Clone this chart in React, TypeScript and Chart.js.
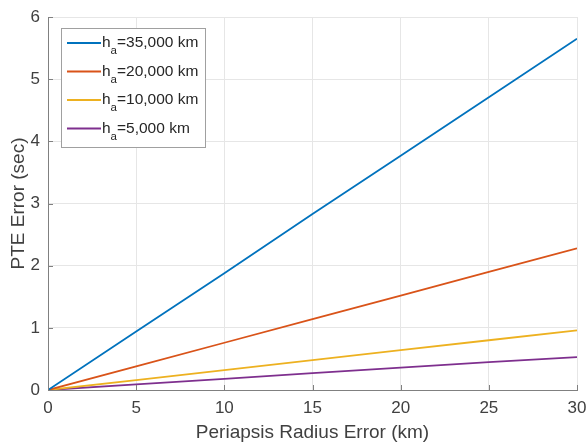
import React, { useEffect, useRef } from "react";
import { Chart, registerables } from "chart.js";

Chart.register(...registerables);

const xValues = [0, 5, 10, 15, 20, 25, 30];
const series35000 = [0, 0.94, 1.88, 2.83, 3.77, 4.71, 5.65];
const series20000 = [0, 0.38, 0.76, 1.14, 1.52, 1.9, 2.28];
const series10000 = [0, 0.16, 0.32, 0.48, 0.64, 0.8, 0.96];
const series5000 = [0, 0.09, 0.18, 0.27, 0.36, 0.45, 0.53];
const legendMain = ["h", "h", "h", "h"];
const legendSub = ["a", "a", "a", "a"];
const legendRest = ["=35,000 km", "=20,000 km", "=10,000 km", "=5,000 km"];
const colors = ["#0072BD", "#D95319", "#EDB120", "#7E2F8E"];

const FONT = "'Liberation Sans', Arial, sans-serif";

const inwardTicks = {
  id: "inwardTicks",
  afterDatasetsDraw(chart: any) {
    const { ctx, chartArea, scales } = chart;
    ctx.save();
    ctx.strokeStyle = "#808080";
    ctx.lineWidth = 1;
    const len = 5;
    scales.x.ticks.forEach((t: any) => {
      const px = Math.round(scales.x.getPixelForValue(t.value)) + 0.5;
      ctx.beginPath();
      ctx.moveTo(px, chartArea.bottom);
      ctx.lineTo(px, chartArea.bottom - len);
      ctx.stroke();
    });
    scales.y.ticks.forEach((t: any) => {
      const py = Math.round(scales.y.getPixelForValue(t.value)) + 0.5;
      ctx.beginPath();
      ctx.moveTo(chartArea.left, py);
      ctx.lineTo(chartArea.left + len, py);
      ctx.stroke();
    });
    ctx.restore();
  },
};

const customLegend = {
  id: "customLegend",
  afterDraw(chart: any) {
    const { ctx } = chart;
    const x0 = 61.5, y0 = 28.5, w = 144, h = 119;
    ctx.save();
    ctx.fillStyle = "#ffffff";
    ctx.fillRect(x0, y0, w, h);
    ctx.strokeStyle = "#a0a0a0";
    ctx.lineWidth = 1;
    ctx.strokeRect(x0, y0, w, h);
    const rowY = [43, 71.5, 100, 128.5];
    for (let i = 0; i < 4; i++) {
      const y = rowY[i];
      ctx.strokeStyle = colors[i];
      ctx.lineWidth = 2;
      ctx.beginPath();
      ctx.moveTo(67, y);
      ctx.lineTo(101, y);
      ctx.stroke();
      ctx.fillStyle = "#262626";
      ctx.textBaseline = "middle";
      ctx.textAlign = "left";
      ctx.font = `15.5px ${FONT}`;
      ctx.fillText(legendMain[i], 102, y);
      const hw = ctx.measureText(legendMain[i]).width;
      ctx.font = `11.5px ${FONT}`;
      ctx.fillText(legendSub[i], 102 + hw, y + 8);
      const aw = ctx.measureText(legendSub[i]).width;
      ctx.font = `15.5px ${FONT}`;
      ctx.fillText(legendRest[i], 102 + hw + aw, y);
    }
    ctx.restore();
  },
};

export default function App() {
  const ref = useRef<HTMLCanvasElement>(null);
  useEffect(() => {
    if (!ref.current) return;
    const labels = ["35,000", "20,000", "10,000", "5,000"];
    const all = [series35000, series20000, series10000, series5000];
    const chart = new Chart(ref.current, {
      type: "line",
      data: {
        datasets: all.map((s, i) => ({
          label: labels[i],
          data: xValues.map((x, j) => ({ x, y: s[j] })),
          borderColor: colors[i],
          backgroundColor: colors[i],
          borderWidth: 1.8,
          pointRadius: 0,
          tension: 0,
        })),
      },
      options: {
        animation: false,
        responsive: false,
        maintainAspectRatio: false,
        layout: { padding: { top: 17, right: 10, left: 0, bottom: 0 } },
        plugins: { legend: { display: false }, tooltip: { enabled: false } },
        scales: {
          x: {
            type: "linear",
            min: 0,
            max: 30,
            afterFit: (s: any) => { s.height = 55; s.paddingRight = 0; s.paddingLeft = 0; },
            ticks: { stepSize: 5, color: "#404040", font: { family: FONT, size: 17 }, padding: 8 },
            grid: { color: "#e6e6e6", drawTicks: false },
            border: { color: "#808080", width: 1 },
            title: { display: true, text: "Periapsis Radius Error (km)", color: "#404040", font: { family: FONT, size: 19 }, padding: { top: 0, bottom: 1 } },
          },
          y: {
            type: "linear",
            min: 0,
            max: 6,
            afterFit: (s: any) => { s.width = 48; s.paddingTop = 0; s.paddingBottom = 0; },
            ticks: { stepSize: 1, color: "#404040", font: { family: FONT, size: 17 }, padding: 8 },
            grid: { color: "#e6e6e6", drawTicks: false },
            border: { color: "#808080", width: 1 },
            title: { display: true, text: "PTE Error (sec)", color: "#404040", font: { family: FONT, size: 19 }, padding: { top: 7, bottom: 0 } },
          },
        },
      },
      plugins: [inwardTicks, customLegend],
    });
    return () => chart.destroy();
  }, []);
  return (
    <div style={{ position: "fixed", left: 0, top: 0, width: 587, height: 445, background: "#fff" }}>
      <canvas ref={ref} width={587} height={445} style={{ width: 587, height: 445 }} />
    </div>
  );
}
